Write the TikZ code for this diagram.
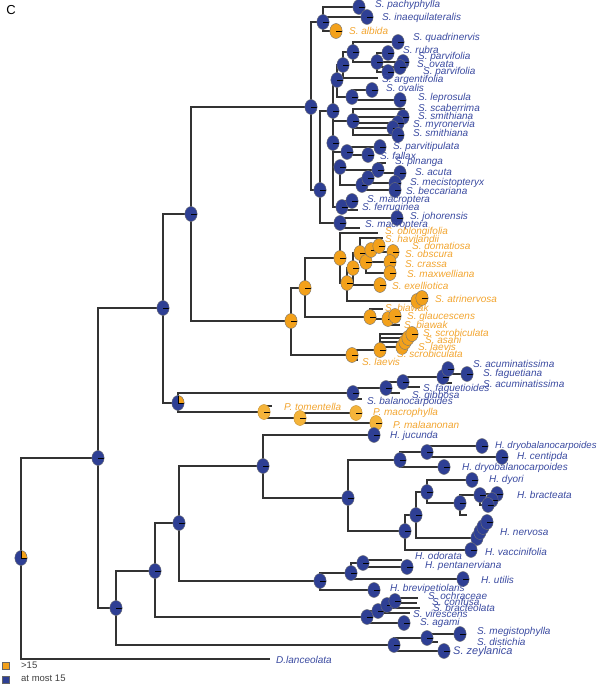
\documentclass[tikz,border=0pt]{standalone}
\usepackage{fontspec}
\setmainfont{Liberation Sans}
\usetikzlibrary{shapes.geometric}
\pgfdeclarelayer{bg}
\pgfsetlayers{bg,main}
\definecolor{pblue}{HTML}{2E3F94}
\definecolor{tblue}{HTML}{3A4AA0}
\definecolor{porange}{HTML}{F3A11B}
\definecolor{lorange}{HTML}{F5B43A}
\definecolor{torange}{HTML}{F2A530}
\definecolor{brc}{HTML}{333333}
\tikzset{
 piebase/.style={ellipse, minimum width=12.4pt, minimum height=15pt, inner sep=0pt, draw=black!55, line width=0.4pt},
 tick/.style={path picture={\draw[black, line width=0.7pt] (path picture bounding box.center) -- (path picture bounding box.east);}},
 pb/.style={piebase, fill=pblue, tick},
 po/.style={piebase, fill=porange, tick},
 pl/.style={piebase, fill=lorange, draw=lorange!80!black, tick},
 pq/.style={piebase, fill=pblue, path picture={\fill[porange] (path picture bounding box.center) rectangle (path picture bounding box.north east);
   \draw[black, line width=0.6pt] (path picture bounding box.north) -- (path picture bounding box.center) -- (path picture bounding box.east);}},
 brl/.style={draw=brc, line width=1.2pt},
 lb/.style={anchor=west, inner sep=0pt, text=tblue, font=\fontsize{10}{12}\selectfont\itshape},
 lo/.style={anchor=west, inner sep=0pt, text=torange, font=\fontsize{10}{12}\selectfont\itshape},
 legtext/.style={anchor=west, inner sep=0pt, text=black!75, font=\fontsize{9.5}{11}\selectfont},
}
\newcommand\br[2]{\draw[brl] (#1.center) |- (#2.center);}
\begin{document}
\begin{tikzpicture}[x=1pt,y=-1pt]
\useasboundingbox (0,0) rectangle (601,685);
\node[font=\fontsize{13}{15}\selectfont, inner sep=0pt] (panel) at (11,10) {C};
% ---------- internal nodes ----------
\node[pq] (R) at (21,558) {};
\node[pb] (A) at (98,458) {};
\node[pb] (B) at (163,308) {};
\node[pb] (C) at (116,608) {};
\node[pb] (D) at (155,571) {};
\node[pb] (E) at (179,523) {};
\node[pb] (Q) at (191,214) {};
\node[pq] (P) at (178,403) {};
\node[pb] (S1) at (311,107) {};
\node[po] (S2) at (291,321) {};
\node[po] (S3) at (305,288) {};
\node[po] (S4) at (340,258) {};
\node[po] (S5) at (352,355) {};
\node[po] (S6) at (347,283) {};
\node[po] (S7) at (353,268) {};
\node[po] (S8) at (360,253) {};
\node[po] (S9) at (366,262) {};
\node[po] (S10) at (371,250) {};
\node[po] (BW) at (370,317) {};
\node[po] (BW2) at (388,319) {};
\node[po] (S12) at (380,350) {};
\node[pb] (T1) at (323,22) {};
\node[pb] (T3) at (320,190) {};
\node[pb] (U1) at (333,111) {};
\node[pb] (X1) at (337,80) {};
\node[pb] (X2) at (343,65) {};
\node[pb] (X4) at (353,52) {};
\node[pb] (X5) at (377,62) {};
\node[pb] (X3) at (352,97) {};
\node[pb] (Y1) at (353,121) {};
\node[pb] (W) at (333,143) {};
\node[pb] (W1) at (347,152) {};
\node[pb] (W2) at (340,167) {};
\node[pb] (W6) at (378,170) {};
\node[pb] (W5) at (362,185) {};
\node[pb] (W7) at (368,178) {};
\node[pb] (W3) at (342,207) {};
\node[pb] (V) at (340,223) {};
\node[pb] (BA) at (353,393) {};
\node[pb] (BB) at (386,388) {};
\node[pb] (BC) at (403,382) {};
\node[pb] (BD) at (443,377) {};
\node[pl] (PT) at (264,412) {};
\node[pl] (PM) at (300,418) {};
\node[pb] (H) at (263,466) {};
\node[pb] (I) at (348,498) {};
\node[pb] (J) at (400,460) {};
\node[pb] (J1) at (427,452) {};
\node[pb] (K) at (405,531) {};
\node[pb] (L) at (416,515) {};
\node[pb] (M) at (427,492) {};
\node[pb] (N) at (460,503) {};
\node[pb] (BR) at (480,495) {};
\node[pb] (F) at (320,581) {};
\node[pb] (F1) at (351,573) {};
\node[pb] (F2) at (363,563) {};
\node[pb] (G) at (367,617) {};
\node[pb] (G1) at (378,611) {};
\node[pb] (G2) at (387,605) {};
\node[pb] (G3) at (395,601) {};
\node[pb] (Z) at (394,645) {};
\node[pb] (Z1) at (427,638) {};
% ---------- leaves ----------
\coordinate (dlan) at (270,659);
% blue upper clade
\node[pb] (pach) at (359,7) {};
\node[pb] (inaeq) at (367,17) {};
\node[po] (albida) at (336,31) {};
\node[pb] (quad) at (398,42) {};
\node[pb] (rubra) at (388,53) {};
\node[pb] (parv1) at (403,62) {};
\node[pb] (ovata) at (400,67) {};
\node[pb] (parv2) at (388,72) {};
\coordinate (argent) at (378,78);
\node[pb] (ovalis) at (372,90) {};
\node[pb] (lepro) at (400,100) {};
\coordinate (scab) at (405,109);
\node[pb] (smith1) at (403,117) {};
\node[pb] (myro) at (398,123) {};
\node[pb] (yx) at (393,128) {};
\node[pb] (smith2) at (398,135) {};
\node[pb] (parvit) at (380,147) {};
\node[pb] (fallax) at (368,155) {};
\coordinate (pinanga) at (386,163);
\node[pb] (acuta) at (400,173) {};
\node[pb] (meci) at (395,183) {};
\node[pb] (becc) at (395,190) {};
\node[pb] (macro1) at (352,201) {};
\coordinate (ferr) at (358,210);
\node[pb] (joho) at (397,218) {};
\coordinate (macro2) at (360,228);
% orange clade
\coordinate (oblong) at (378,233);
\coordinate (havil) at (383,238);
\node[po] (dom) at (379,246) {};
\node[po] (obsc) at (393,252) {};
\node[po] (crassa) at (390,262) {};
\node[po] (maxw) at (390,273) {};
\node[po] (exell) at (380,285) {};
\node[po] (atri1) at (417,301) {};
\node[po] (atri2) at (422,298) {};
\coordinate (biawak1) at (383,309);
\node[po] (glauc) at (395,316) {};
\coordinate (biawak2) at (400,325);
\node[po] (scrob2) at (402,347) {};
\node[po] (laevis1) at (405,342) {};
\node[po] (asahi) at (408,338) {};
\node[po] (scrob1) at (412,334) {};
\coordinate (laevis2) at (358,360);
% balanocarpoides clade
\coordinate (balano) at (362,399);
\coordinate (gibbosa) at (400,393);
\coordinate (faguet) at (420,387);
\node[pb] (acum1) at (448,369) {};
\node[pb] (faguetiana) at (467,374) {};
\coordinate (acum2) at (452,383);
% Pentacme
\coordinate (tomstub) at (272,406);
\node[pl] (macroph) at (356,413) {};
\node[pl] (malaan) at (376,423) {};
% Hopea
\node[pb] (jucunda) at (374,435) {};
\node[pb] (dryo1) at (482,446) {};
\node[pb] (centipda) at (502,457) {};
\node[pb] (dryo2) at (444,467) {};
\node[pb] (dyori) at (472,480) {};
\node[pb] (br1) at (497,494) {};
\node[pb] (br2) at (492,500) {};
\node[pb] (br3) at (488,505) {};
\coordinate (nstub) at (467,515);
\node[pb] (nv1) at (477,538) {};
\node[pb] (nv2) at (480,532) {};
\node[pb] (nv3) at (483,527) {};
\node[pb] (nv4) at (487,522) {};
\node[pb] (vaccin) at (471,550) {};
\coordinate (odorata) at (402,560);
\node[pb] (pentan) at (407,567) {};
\node[pb] (utilis) at (463,579) {};
\node[pb] (brevip) at (374,590) {};
\coordinate (ochr) at (418,598);
\coordinate (conf) at (417,603);
\coordinate (bracteol) at (420,608);
\coordinate (vires) at (410,613);
\node[pb] (agami) at (404,623) {};
\node[pb] (megist) at (460,634) {};
\coordinate (distich) at (438,642);
\node[pb] (zeylan) at (444,651) {};
% ---------- branches ----------
\begin{pgfonlayer}{bg}
\br{R}{A}\br{R}{dlan}
\br{A}{B}\br{A}{C}
\br{B}{Q}\br{B}{P}
\br{Q}{S1}\br{Q}{S2}
\br{C}{D}\br{C}{Z}
\br{D}{E}\br{D}{G}
\br{E}{H}\br{E}{F}
\br{H}{jucunda}\br{H}{I}
\br{I}{J}\br{I}{K}
\br{J}{J1}\br{J}{dryo2}
\br{J1}{dryo1}\br{J1}{centipda}
\br{K}{L}\br{K}{vaccin}
\br{L}{M}\br{L}{nv1}
\br{nv1}{nv2}\br{nv2}{nv3}\br{nv3}{nv4}
\br{M}{dyori}\br{M}{N}
\br{N}{BR}\br{N}{nstub}
\br{BR}{br1}\br{BR}{br2}\br{BR}{br3}
\br{F}{F1}\br{F}{brevip}
\br{F1}{F2}\br{F1}{utilis}
\br{F2}{odorata}\br{F2}{pentan}
\br{G}{G1}\br{G}{agami}
\br{G1}{G2}\br{G1}{vires}
\br{G2}{G3}\br{G2}{bracteol}
\br{G3}{ochr}\br{G3}{conf}
\br{Z}{Z1}\br{Z}{zeylan}
\br{Z1}{megist}\br{Z1}{distich}
\br{P}{BA}\br{P}{PT}
\br{BA}{BB}\br{BA}{balano}
\br{BB}{BC}\br{BB}{gibbosa}
\br{BC}{BD}\br{BC}{faguet}
\br{BD}{acum1}\br{BD}{faguetiana}\br{BD}{acum2}
\br{PT}{tomstub}\br{PT}{PM}
\br{PM}{macroph}\br{PM}{malaan}
\br{S2}{S3}\br{S2}{S5}
\br{S3}{S4}\br{S3}{BW}
\br{S4}{oblong}\br{S4}{S6}
\br{S6}{S7}\br{S6}{atri1}\br{atri1}{atri2}
\br{S7}{S8}\br{S7}{exell}
\br{S8}{havil}\br{S8}{S9}
\br{S9}{S10}\br{S9}{crassa}\br{S9}{maxw}
\br{S10}{dom}\br{S10}{obsc}
\br{BW}{biawak1}\br{BW}{BW2}
\br{BW2}{glauc}\br{BW2}{biawak2}
\br{S5}{S12}\br{S5}{laevis2}
\br{S12}{scrob1}\br{S12}{asahi}\br{S12}{laevis1}\br{S12}{scrob2}
\br{S1}{T1}\br{S1}{T3}
\br{T1}{pach}\br{T1}{inaeq}\br{T1}{albida}
\br{T3}{U1}\br{T3}{V}
\br{U1}{X1}\br{U1}{Y1}\br{U1}{W}
\br{X1}{X2}\br{X1}{X3}
\br{X2}{X4}\br{X2}{argent}
\br{X4}{quad}\br{X4}{X5}
\br{X5}{rubra}\br{X5}{parv1}\br{X5}{ovata}\br{X5}{parv2}
\br{X3}{ovalis}\br{X3}{lepro}
\br{Y1}{scab}\br{Y1}{smith1}\br{Y1}{myro}\br{Y1}{yx}\br{Y1}{smith2}
\br{W}{W1}\br{W}{W2}\br{W}{W3}
\br{W1}{parvit}\br{W1}{fallax}
\br{W2}{W6}\br{W2}{W5}
\br{W6}{pinanga}\br{W6}{acuta}
\br{W5}{W7}\br{W5}{becc}
\br{W7}{meci}
\br{W3}{macro1}\br{W3}{ferr}
\br{V}{joho}\br{V}{macro2}
\end{pgfonlayer}
% ---------- labels ----------
\node[lb] (l1) at (375,5) {S. pachyphylla};
\node[lb] (l2) at (382,18) {S. inaequilateralis};
\node[lo] (l3) at (349,31) {S. albida};
\node[lb] (l4) at (413,38) {S. quadrinervis};
\node[lb] (l5) at (403,50) {S. rubra};
\node[lb] (l6) at (418,57) {S. parvifolia};
\node[lb] (l7) at (417,64) {S. ovata};
\node[lb] (l8) at (423,72) {S. parvifolia};
\node[lb] (l9) at (382,80) {S. argentifolia};
\node[lb] (l10) at (386,88) {S. ovalis};
\node[lb] (l11) at (418,98) {S. leprosula};
\node[lb] (l12) at (418,108) {S. scaberrima};
\node[lb] (l13) at (418,116) {S. smithiana};
\node[lb] (l14) at (413,125) {S. myronervia};
\node[lb] (l15) at (413,133) {S. smithiana};
\node[lb] (l16) at (393,147) {S. parvitipulata};
\node[lb] (l17) at (380,156) {S. fallax};
\node[lb] (l18) at (395,162) {S. pinanga};
\node[lb] (l19) at (415,172) {S. acuta};
\node[lb] (l20) at (410,183) {S. mecistopteryx};
\node[lb] (l21) at (406,191) {S. beccariana};
\node[lb] (l22) at (367,200) {S. macroptera};
\node[lb] (l23) at (362,208) {S. ferruginea};
\node[lb] (l24) at (410,217) {S. johorensis};
\node[lb] (l25) at (365,225) {S. macroptera};
\node[lo] (l26) at (385,232) {S. oblongifolia};
\node[lo] (l27) at (385,239) {S. havilandii};
\node[lo] (l28) at (412,246) {S. domatiosa};
\node[lo] (l29) at (405,254) {S. obscura};
\node[lo] (l30) at (405,264) {S. crassa};
\node[lo] (l31) at (407,274) {S. maxwelliana};
\node[lo] (l32) at (392,286) {S. exelliotica};
\node[lo] (l33) at (435,299) {S. atrinervosa};
\node[lo] (l34) at (385,308) {S. biawak};
\node[lo] (l35) at (407,317) {S. glaucescens};
\node[lo] (l36) at (404,325) {S. biawak};
\node[lo] (l37) at (423,333) {S. scrobiculata};
\node[lo] (l38) at (425,340) {S. asahi};
\node[lo] (l39) at (418,347) {S. laevis};
\node[lo] (l40) at (397,354) {S. scrobiculata};
\node[lo] (l41) at (362,362) {S. laevis};
\node[lb] (l42) at (473,364) {S. acuminatissima};
\node[lb] (l43) at (483,374) {S. faguetiana};
\node[lb] (l44) at (483,384) {S. acuminatissima};
\node[lb] (l45) at (423,389) {S. faguetioides};
\node[lb] (l46) at (412,396) {S. gibbosa};
\node[lb] (l47) at (367,402) {S. balanocarpoides};
\node[lo] (l48) at (284,407) {P. tomentella};
\node[lo] (l49) at (373,413) {P. macrophylla};
\node[lo] (l50) at (393,425) {P. malaanonan};
\node[lb] (l51) at (390,436) {H. jucunda};
\node[lb, font=\fontsize{9.6}{12}\selectfont\itshape] (l52) at (495,446) {H. dryobalanocarpoides};
\node[lb] (l53) at (517,457) {H. centipda};
\node[lb] (l54) at (462,468) {H. dryobalanocarpoides};
\node[lb] (l55) at (489,480) {H. dyori};
\node[lb] (l56) at (517,495) {H. bracteata};
\node[lb] (l57) at (500,532) {H. nervosa};
\node[lb] (l58) at (485,552) {H. vaccinifolia};
\node[lb] (l59) at (415,556) {H. odorata};
\node[lb] (l60) at (425,566) {H. pentanerviana};
\node[lb] (l61) at (481,580) {H. utilis};
\node[lb] (l62) at (390,589) {H. brevipetiolaris};
\node[lb] (l63) at (428,596) {S. ochraceae};
\node[lb] (l64) at (432,602) {S. confusa};
\node[lb] (l65) at (433,608) {S. bracteolata};
\node[lb] (l66) at (413,614) {S. virescens};
\node[lb] (l67) at (420,623) {S. agami};
\node[lb] (l68) at (477,632) {S. megistophylla};
\node[lb] (l69) at (477,642) {S. distichia};
\node[lb, font=\fontsize{11}{13}\selectfont\itshape] (l70) at (453,652) {S. zeylanica};
\node[lb] (l71) at (276,660) {D.lanceolata};
% ---------- legend ----------
\node[draw=black!60, fill=porange, minimum size=7pt, inner sep=0pt] (lg1) at (5.5,665.5) {};
\node[draw=black!60, fill=pblue, minimum size=7pt, inner sep=0pt] (lg2) at (5.5,679.5) {};
\node[legtext] (lt1) at (21,665) {>15};
\node[legtext] (lt2) at (21,678.5) {at most 15};
\end{tikzpicture}
\end{document}
